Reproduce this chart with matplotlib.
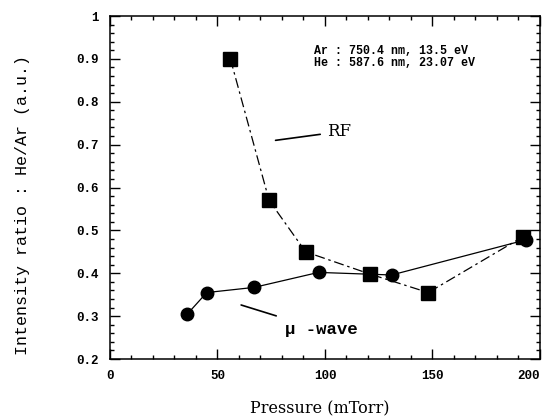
import matplotlib.pyplot as plt
from matplotlib.ticker import MultipleLocator

# RF discharge (squares, dash-dot)
rf_pressure = [56, 74, 91, 121, 148, 192]
rf_ratio = [0.90, 0.57, 0.45, 0.398, 0.355, 0.485]

# microwave discharge (circles, solid)
mw_pressure = [36, 45, 67, 97, 131, 193.5]
mw_ratio = [0.305, 0.355, 0.367, 0.402, 0.396, 0.478]

mono = ['Liberation Mono', 'DejaVu Sans Mono']
serif = ['DejaVu Serif', 'Liberation Serif']

fig = plt.figure(figsize=(5.48, 4.2), dpi=100)
ax = fig.add_axes([0.2007, 0.1452, 0.7847, 0.8167])

ax.plot(rf_pressure, rf_ratio, color='black', lw=0.9, dashes=(8, 3, 2, 3),
        marker='s', markersize=9.5, markerfacecolor='black')
ax.plot(mw_pressure, mw_ratio, color='black', lw=0.9, linestyle='-',
        marker='o', markersize=9, markerfacecolor='black')

ax.set_xlim(0, 200)
ax.set_ylim(0.2, 1.0)
ax.set_xticks([0, 50, 100, 150, 200])
ax.xaxis.set_minor_locator(MultipleLocator(10))
ax.yaxis.set_minor_locator(MultipleLocator(0.02))
ax.set_yticks([0.2, 0.3, 0.4, 0.5, 0.6, 0.7, 0.8, 0.9, 1.0])
ax.set_yticklabels(['0.2', '0.3', '0.4', '0.5', '0.6', '0.7', '0.8', '0.9', '1'])

ax.tick_params(which='both', direction='in', top=True, right=True, width=1)
ax.tick_params(which='major', length=7, pad=8)
ax.tick_params(which='minor', length=3)
ax.tick_params(labelfontfamily='Liberation Mono', labelsize=9)
for s in ax.spines.values():
    s.set_linewidth(1.1)

ax.set_xlabel('Pressure (mTorr)', family=serif, fontsize=11.5)
ax.xaxis.set_label_coords(0.488, -0.12)
ax.set_ylabel('Intensity ratio : He/Ar (a.u.)', family=mono, fontsize=12)
ax.yaxis.set_label_coords(-0.186, 0.449)

ax.text(0.475, 0.915, 'Ar : 750.4 nm, 13.5 eV\nHe : 587.6 nm, 23.07 eV',
        transform=ax.transAxes, family=mono, fontweight='bold', fontsize=8.4,
        va='top', ha='left', linespacing=0.95)

# leader lines and labels
ax.annotate('RF', xy=(77, 0.71), xytext=(101, 0.73), family=serif, fontsize=12,
            va='center', ha='left',
            arrowprops=dict(arrowstyle='-', color='black', lw=1.2,
                            shrinkA=3, shrinkB=0))
ax.annotate('\u03bc -wave', xy=(61, 0.326), xytext=(81.4, 0.268), family=mono,
            fontweight='bold', fontsize=12.5, va='center', ha='left',
            arrowprops=dict(arrowstyle='-', color='black', lw=1.2,
                            shrinkA=9, shrinkB=0))

fig.canvas.draw()
for lab in ax.get_xticklabels() + ax.get_yticklabels():
    lab.set_fontweight('bold')
# the 200 label sits right on the figure edge, pull it inside
for tick in ax.xaxis.get_major_ticks():
    if tick.get_loc() == 200:
        tick.label1.set_horizontalalignment('right')
        tick.label1.set_x(200)

fig.savefig('out.png', dpi=100)
